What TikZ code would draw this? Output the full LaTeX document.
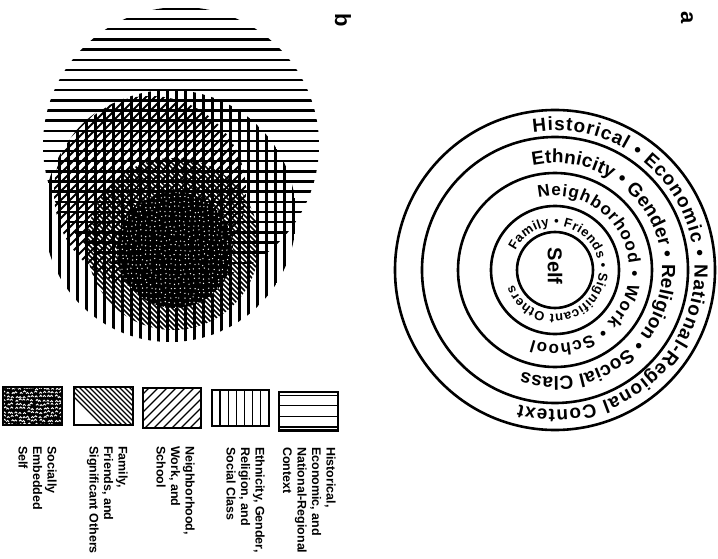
\documentclass[tikz,border=0pt]{standalone}
\usepackage{fontspec}
\setmainfont{Liberation Sans}
\usetikzlibrary{decorations.text}
\newcommand{\ringlabel}[5]{ \path[decorate,decoration={text along path,text align={fit to path},text={|\bfseries\fontsize{#5}{#5}\selectfont|#4}}] (ctr) ++(#1:#3) arc[start angle=#1,end angle=#2,radius=#3];}
\newcommand{\legendbox}[4]{ \draw[line width=2.4pt] ( #1 , #2 ) rectangle ( #3 , #4 );}

\begin{document}
\begin{tikzpicture}[x=1pt,y=1pt,
  ring/.style={line width=2.6pt},
  hline/.style={line width=2.4pt},
  vline/.style={line width=2.2pt},
  fwdline/.style={line width=1.8pt},
  bckline/.style={line width=1.5pt},
  legtext/.style={rotate=-90,anchor=north west,inner sep=0pt,align=left,font=\bfseries\fontsize{12.5}{14.5}\selectfont},
  panel/.style={rotate=-90,font=\bfseries\fontsize{22}{22}\selectfont}]
\useasboundingbox (0,0) rectangle (718,-559);
% panel a: rings
\coordinate (ctr) at (555,-270);
\draw[ring] (ctr) circle[radius=160];
\draw[ring] (ctr) circle[radius=133];
\draw[ring] (ctr) circle[radius=97];
\draw[ring] (ctr) circle[radius=64];
\draw[ring] (ctr) circle[radius=38];
% ring labels
\ringlabel{99}{-105}{139.5}{Historical • Economic • National-Regional Context}{19}
\ringlabel{102}{-108}{107}{Ethnicity • Gender • Religion • Social Class}{19}
\ringlabel{103}{-108}{74}{Neighborhood • Work • School}{17}
\ringlabel{154}{-160}{44}{Family • Friends • Significant Others}{13}
\node[rotate=-90,font=\bfseries\fontsize{20}{20}\selectfont] (selfnode) at (555,-266) {Self};
\node[panel] (labela) at (687,-18) {a};
\node[panel] (labelb) at (343,-20) {b};
% panel b: centres of the discs
\coordinate (hctr) at (181,-145);
\coordinate (vctr) at (170,-216);
\coordinate (fctr) at (150,-192);
\coordinate (bctr) at (173,-244);
\coordinate (sctr) at (175,-250);
% horizontal lines
\begin{scope}
\clip (hctr) circle[radius=138];
\foreach \k in {0,...,27} \draw[hline] (30,-9-\k*10.15) -- (330,-9-\k*10.15);
\end{scope}
% vertical lines
\begin{scope}
\clip (vctr) circle[radius=126];
\foreach \k in {0,...,27} \draw[vline] (50.5+\k*9,-80) -- (50.5+\k*9,-350);
\end{scope}
% forward lines
\begin{scope}
\clip (fctr) circle[radius=96];
\foreach \k in {-16,...,16} \draw[fwdline,shift={(fctr)}] (\k*9-110,-110) -- (\k*9+110,110);
\end{scope}
% backward lines
\begin{scope}
\clip (bctr) circle[radius=86];
\foreach \k in {-25,...,25} \draw[bckline,shift={(bctr)}] (\k*5-100,100) -- (\k*5+100,-100);
\end{scope}
% self
\pgfmathsetseed{7}
\begin{scope}
\clip (sctr) circle[radius=58];
\fill (sctr) circle[radius=58];
\foreach \i in {-12,...,12} \foreach \j in {-12,...,12}
  \fill[white,shift={(sctr)}] (\i*4.8+rand*1.2,\j*4.8+rand*1.2) circle[radius=0.7];
\end{scope}
% legend boxes
\begin{scope}
\clip (3,-387) rectangle (62,-425);
\fill (3,-387) rectangle (62,-425);
\foreach \i in {0,...,14} \foreach \j in {0,...,9}
  \draw[white,line width=0.9pt] (3+\i*4+rand,-389-\j*4+rand) -- ++(1.3,1.3) -- ++(1.3,-1.3);
\end{scope}
\legendbox{3}{-387}{62}{-425}
\begin{scope}
\clip (74,-387) rectangle (133,-425);
\foreach \k in {0,...,20} \draw[line width=1.4pt] (64+\k*5,-387) -- (104+\k*5,-427);
\end{scope}
\legendbox{74}{-387}{133}{-425}
\begin{scope}
\clip (143,-388) rectangle (201,-428);
\foreach \k in {0,...,11} \draw[line width=1.3pt] (100+\k*9,-428) -- (140+\k*9,-388);
\end{scope}
\legendbox{143}{-388}{201}{-428}
\foreach \k in {1,...,6} \draw[line width=1.4pt] (212+\k*8.1,-390) -- (212+\k*8.1,-426);
\legendbox{212}{-390}{269}{-426}
\foreach \y in {395.5,405.5,416.5,427} \draw[line width=1.3pt] (279,-\y) -- (338,-\y);
\legendbox{279}{-392}{338}{-430.5}
% legend texts
\node[legtext] (lgself) at (57,-446) {Socially\\Embedded\\Self};
\node[legtext] (lgfamily) at (128,-446) {Family,\\Friends, and\\Significant Others};
\node[legtext] (lgneigh) at (195,-446) {Neighborhood,\\Work, and\\School};
\node[legtext] (lgethnic) at (265,-447) {Ethnicity, Gender,\\Religion, and\\Social Class};
\node[legtext] (lghist) at (336,-447) {Historical,\\Economic, and\\National-Regional\\Context};
\end{tikzpicture}
\end{document}
